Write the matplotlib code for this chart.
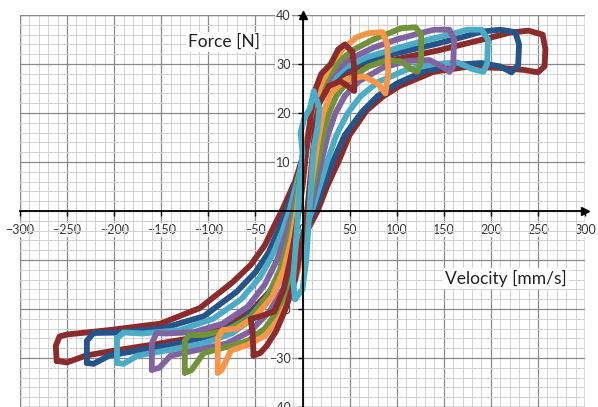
import numpy as np
import matplotlib
matplotlib.use("Agg")
import matplotlib.pyplot as plt
from matplotlib.ticker import MultipleLocator
from matplotlib.patches import Rectangle

plt.rcParams['font.family'] = ['Lato', 'DejaVu Sans']

# ===== loops (velocity mm/s, force N), biggest first
red_v = [-261, -250, -230, -200, -160, -120, -85, -55, -30, -10, 5, 16, 26, 38, 50, 68, 85, 103, 139, 174,
         210, 235, 250, 257, 258, 255, 240, 220, 200, 170, 145, 100, 70, 45, 25, 12, 2, -8, -22, -30,
         -40, -55, -74, -109, -151, -205, -250, -258, -262, -261]
red_f = [-30.6, -30.9, -29.5, -28.5, -27.3, -26, -24, -20.5, -15.5, -9.5, -4, 0, 5, 10, 15.5, 20.5, 23.3, 25.5, 28.4, 29.4,
         29.2, 28.8, 28.3, 29.5, 33, 36, 36.8, 36.4, 35.4, 34, 32.8, 31, 29.8, 28, 25, 20, 12, 6, 0, -3,
         -7, -11, -14.5, -19.8, -23, -24.3, -25.2, -25.6, -27.5, -30.6]

blue_v = [-229, -222, -205, -170, -130, -95, -65, -40, -20, -3, 12, 22, 32, 45, 63, 80, 100, 130, 160, 190,
          210, 222, 229, 230, 226, 210, 190, 170, 140, 100, 70, 45, 25, 13, 5, -4, -17, -26, -36, -50,
          -70, -105, -150, -195, -222, -229, -229]
blue_f = [-31, -31.2, -29.5, -28.3, -27, -25.3, -22.5, -18, -12, -6, 0, 5, 10, 15.5, 20.2, 23.5, 26, 28.6, 29.8, 30.2,
          29.5, 28.3, 29.8, 34, 36.5, 37, 36.6, 35.5, 34, 32.2, 30.8, 28.8, 25.5, 21, 14, 7, 0, -4, -8.5, -12.5,
          -16.5, -21.5, -24, -24.8, -24.9, -26.5, -31]

cyan_v = [-197, -190, -175, -140, -105, -75, -50, -30, -12, 0, 10, 18, 26, 36, 48, 62, 80, 110, 140, 165,
          180, 192, 196, 197, 190, 175, 160, 130, 100, 70, 45, 27, 15, 6, -3, -14, -22, -32, -45, -65,
          -95, -130, -170, -190, -197, -197]
cyan_f = [-31, -31.2, -29.5, -28.3, -27, -25, -21.5, -16.5, -10, -5, 0, 5, 10, 15.5, 20, 23.5, 26.3, 28.8, 30, 30.3,
          29, 28.4, 30, 35, 37, 37, 36.2, 34.8, 33.2, 31.5, 29.3, 26, 21.5, 15, 8, 0, -4.5, -9, -13.5, -18,
          -22, -24.3, -25, -24.8, -26, -31]

purple_v = [-160, -152, -140, -110, -80, -55, -35, -18, -5, 3, 8, 14, 20, 27, 35, 45, 60, 85, 110, 135,
            148, 156, 160, 161, 156, 140, 125, 100, 75, 50, 32, 18, 8, 0, -10, -18, -27, -40, -58, -85,
            -115, -145, -155, -160, -160]
purple_f = [-32.4, -32, -29.5, -28.3, -27, -24.5, -20.5, -15, -9, -4, 0, 5, 10, 15.5, 20, 23.5, 26.5, 29.2, 30.6, 30.8,
            29.5, 28.4, 29.5, 35, 37, 37, 36.3, 35, 33.3, 31, 28, 23.5, 17, 9, 0, -5, -10, -15, -19.5, -23,
            -24.7, -25, -24.9, -27, -32.4]

green_v = [-125, -118, -105, -80, -58, -40, -25, -12, -2, 3, 6, 11, 16, 22, 28, 36, 50, 70, 90, 105,
           115, 122, 126, 126, 120, 105, 92, 75, 55, 38, 24, 12, 4, -3, -8, -15, -24, -36, -55, -80,
           -105, -120, -125, -125]
green_f = [-33, -32.5, -29, -27.7, -26.5, -24, -20, -14.5, -8.5, -4, 0, 5, 10, 15.5, 20, 23.5, 27, 29.5, 30.8, 30.5,
           29, 28.4, 30.5, 36, 37.5, 37.3, 36.3, 35, 33, 30.5, 26.5, 21, 14, 7, 0, -6, -12, -17, -21.5, -24.3,
           -25.3, -25.3, -26.5, -33]

orange_v = [-90, -86, -76, -58, -40, -25, -12, -3, 2, 5, 9, 13, 17, 22, 30, 45, 65, 80, 88, 91,
            90, 85, 70, 58, 45, 32, 20, 11, 4, -2, -6, -12, -20, -32, -50, -70, -85, -90, -90]
orange_f = [-33, -32.5, -28.5, -27.3, -25.5, -22, -17, -11, -5, 0, 5, 10, 15, 20, 24, 26.7, 27.5, 26, 24, 28,
            34, 36.5, 36.3, 35.5, 33.5, 30.5, 26, 21, 14, 7, 0, -6, -12, -17.5, -21.5, -24, -24.3, -26, -33]

red2_v = [-52, -45, -38, -28, -18, -8, -2, 3, 5, 8, 11, 14, 18, 28, 40, 48, 55, 55, 53, 45,
          38, 30, 20, 14, 9, 4, 0, -4, -8, -13, -20, -30, -45, -55, -53, -52]
red2_f = [-29.5, -29, -27.5, -24.5, -20, -14, -8, -3, 0, 6, 12, 18, 22, 25.5, 26.5, 25.5, 24.5, 29, 32.5, 34,
          33, 30, 28, 25, 20, 12, 5, 0, -5, -10, -16, -20.5, -21.5, -22, -25, -29.5]

cyan2_v = [-8, 0, 4, 6, 8, 10, 12, 16, 18, 12, 8, 2, -2, 0, -2, -4, -6, -8, -10, -8]
cyan2_f = [-18, -16, -10, -4, 2, 8, 13, 17, 21, 24.5, 21, 19, 16, 12, 8, 2, -4, -9, -14, -18]

loops = [(red_v, red_f, '#8B2B2B'), (blue_v, blue_f, '#245489'), (cyan_v, cyan_f, '#4BACC6'),
         (purple_v, purple_f, '#8064A2'), (green_v, green_f, '#6F923A'), (orange_v, orange_f, '#F79646'),
         (red2_v, red2_f, '#8B2B2B'), (cyan2_v, cyan2_f, '#4BACC6')]

fig = plt.figure(figsize=(5.98, 4.07), dpi=100)
ax = fig.add_axes([20 / 598, 0, 565 / 598, 1 - 15 / 407])

for vv, ff, cor in loops:
    ax.plot(vv, ff, color=cor, lw=4.2, solid_joinstyle='round', solid_capstyle='round')

ax.set_xlim(-300, 300)
ax.set_ylim(-40, 40)
ax.xaxis.set_major_locator(MultipleLocator(50))
ax.xaxis.set_minor_locator(MultipleLocator(10))
ax.yaxis.set_major_locator(MultipleLocator(10))
ax.yaxis.set_minor_locator(MultipleLocator(2))
ax.set_axisbelow(True)
ax.grid(which='major', color='#8a8a8a', lw=0.9)
ax.grid(which='minor', color='#d2d2d2', lw=0.7)

# == eixos no centro com setas
ax.spines['left'].set_position(('data', 0))
ax.spines['bottom'].set_position(('data', 0))
ax.spines['top'].set_visible(False)
ax.spines['right'].set_visible(False)
for s in ['left', 'bottom']:
    ax.spines[s].set_color('black')
    ax.spines[s].set_linewidth(1.3)
ax.plot(1, 0, '>k', ms=6, transform=ax.get_yaxis_transform(), clip_on=False)
ax.plot(0, 1, '^k', ms=6, transform=ax.get_xaxis_transform(), clip_on=False)
ax.add_patch(Rectangle((0, 0), 1, 1, transform=ax.transAxes, fill=False,
                       edgecolor='#9a9a9a', lw=1, zorder=0.5))

ax.tick_params(which='minor', length=0)
ax.tick_params(axis='x', which='major', direction='out', length=3.5, width=1, labelsize=9, pad=6, colors='black')
ax.tick_params(axis='y', which='major', direction='out', length=3.5, width=1, labelsize=9, pad=5, colors='black')
ax.set_xticks(np.arange(-300, 301, 50))
ax.set_yticks(np.arange(-40, 41, 10))
for lab in ax.get_xticklabels() + ax.get_yticklabels():
    lab.set_color('#333333')
    lab.set_bbox(dict(facecolor='white', edgecolor='none', pad=0.8))

ax.text(-83, 34.5, 'Force [N]', fontsize=12.5, ha='center', va='center', color='#222222',
        bbox=dict(facecolor='white', edgecolor='none', pad=1.5))
ax.text(216, -13.7, 'Velocity [mm/s]', fontsize=12.5, ha='center', va='center', color='#222222',
        bbox=dict(facecolor='white', edgecolor='none', pad=1.5))

fig.savefig('out.png', dpi=100, facecolor='w')
